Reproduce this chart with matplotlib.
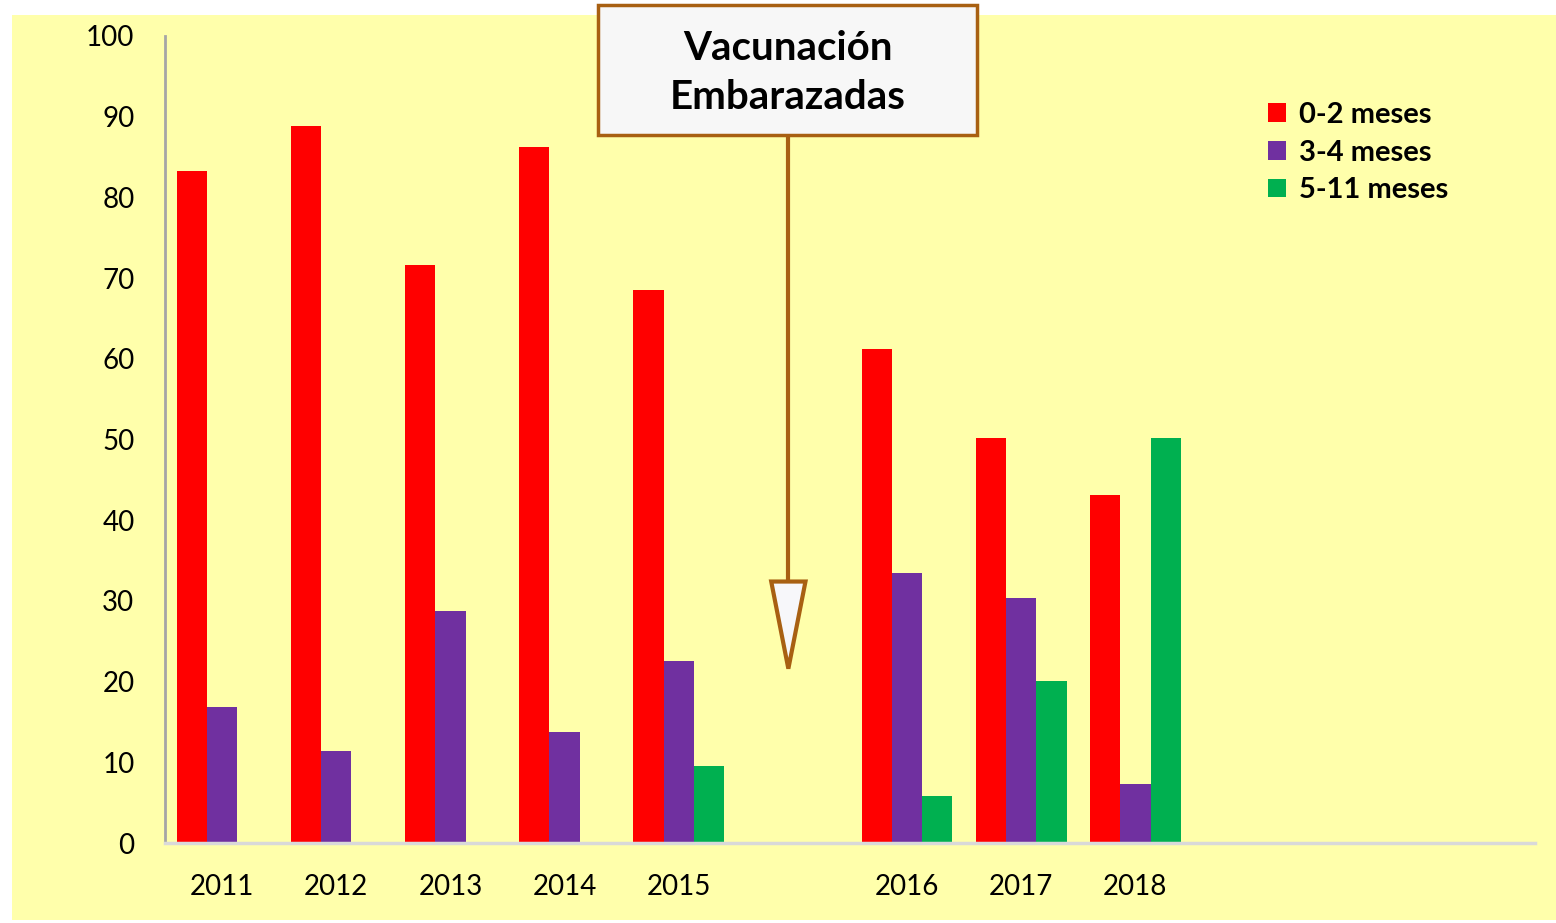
import numpy as np
import matplotlib
matplotlib.use("Agg")
import matplotlib.pyplot as plt
from matplotlib.patches import Rectangle, Polygon

plt.rcParams["font.family"] = ["Lato", "DejaVu Sans"]

# datos (huecos vacíos = "")
categorias = ["2011", "2012", "2013", "2014", "2015", "", "2016", "2017", "2018", "", "", ""]
meses_0_2 = [83.3, 88.9, 71.6, 86.2, 68.5, np.nan, 61.2, 50.2, 43.1, np.nan, np.nan, np.nan]
meses_3_4 = [16.9, 11.4, 28.8, 13.8, 22.5, np.nan, 33.5, 30.3, 7.3, np.nan, np.nan, np.nan]
meses_5_11 = [0, 0, 0, 0, 9.6, np.nan, 5.8, 20.1, 50.2, np.nan, np.nan, np.nan]
series = ["0-2 meses", "3-4 meses", "5-11 meses"]
colores = ["#FF0000", "#7030A0", "#00B050"]

W, H = 1556, 923
fig = plt.figure(figsize=(W / 100, H / 100), dpi=100, facecolor="white")
fig.add_artist(Rectangle((12 / W, 3 / H), (W - 12) / W, (H - 18) / H,
                         transform=fig.transFigure, facecolor="#FFFFAB",
                         edgecolor="none", zorder=-10))

ax = fig.add_axes([165 / W, 80 / H, (1535 - 165) / W, (843 - 36) / H])
ax.set_facecolor("none")

x = np.arange(len(categorias))
ancho = 0.265
for i, (vals, nombre, c) in enumerate(zip([meses_0_2, meses_3_4, meses_5_11], series, colores)):
    ax.bar(x + (i - 1) * ancho, vals, width=ancho, color=c, label=nombre, zorder=2)

ax.set_xlim(-0.5, len(categorias) - 0.5)
ax.set_ylim(0, 100)
ax.set_yticks(range(0, 101, 10))
ax.set_xticks(x)
ax.set_xticklabels(categorias)
ax.tick_params(axis="both", length=0, labelsize=20)
ax.tick_params(axis="y", pad=22)
ax.tick_params(axis="x", pad=22)
for s in ["top", "right"]:
    ax.spines[s].set_visible(False)
ax.spines["left"].set_color("#A6A6A6")
ax.spines["left"].set_linewidth(2)
ax.spines["bottom"].set_color("#D9D9D9")
ax.spines["bottom"].set_linewidth(2.5)

# flecha
marron = "#A86012"
xf = 4.96
ax.plot([xf, xf], [32.4, 87.8], color=marron, lw=3, clip_on=False, zorder=3)
ax.add_patch(Polygon([(xf - 0.15, 32.4), (xf + 0.15, 32.4), (xf, 21.6)], closed=True,
                     facecolor="#F7F7FA", edgecolor=marron, lw=3, zorder=4))

# cuadro
fig.add_artist(Rectangle((598 / W, 1 - 135 / H), 379 / W, 130 / H,
                         transform=fig.transFigure, facecolor="#F7F7F7",
                         edgecolor=marron, lw=2.5, zorder=5))
fig.text(788 / W, 1 - 73 / H, "Vacunación\nEmbarazadas", ha="center", va="center",
         fontsize=29, fontweight="bold", linespacing=1.42, zorder=6)

leg = ax.legend(loc="upper left", bbox_to_anchor=(1268 / W, 1 - 102 / H),
                bbox_transform=fig.transFigure, frameon=False, borderpad=0,
                borderaxespad=0, prop={"size": 21, "weight": "bold"},
                handlelength=0.6, handleheight=0.6, handletextpad=0.45,
                labelspacing=0.4)

fig.savefig("out.png", dpi=100, facecolor=fig.get_facecolor())
